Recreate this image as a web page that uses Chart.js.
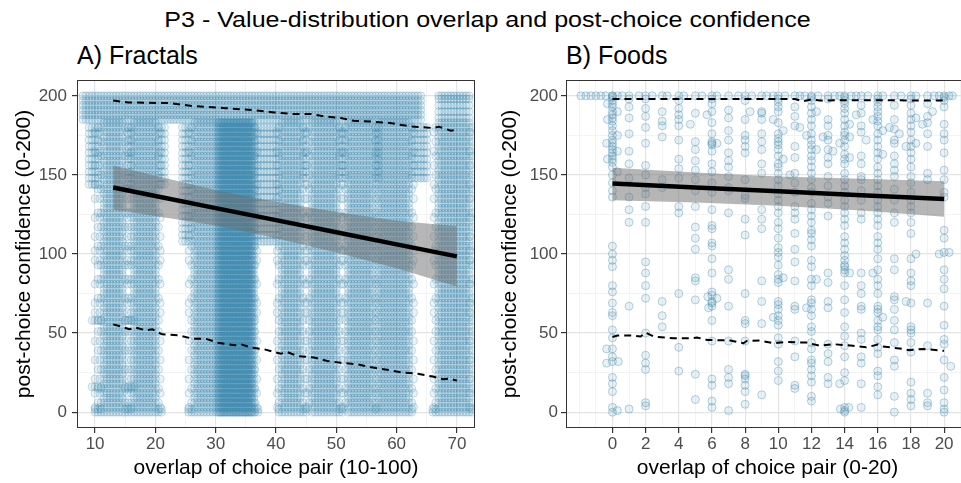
<!DOCTYPE html>
<html><head><meta charset="utf-8">
<script src="https://cdn.jsdelivr.net/npm/chart.js@4/dist/chart.umd.min.js"></script>
<style>
html,body{margin:0;padding:0;background:#fff;overflow:hidden;width:961px;height:483px;position:relative;}
#title{position:absolute;left:7px;top:9px;width:961px;text-align:center;font:22px/22px "Liberation Sans",Arial,sans-serif;color:#000;white-space:nowrap;transform:scaleX(1.14);transform-origin:center;}
.sub{position:absolute;top:43px;font:25px/25px "Liberation Sans",Arial,sans-serif;color:#000;white-space:nowrap;}
#cA{position:absolute;left:0;top:0;}
#cB{position:absolute;left:481px;top:0;}
</style></head>
<body>
<div id="title">P3 - Value-distribution overlap and post-choice confidence</div>
<div class="sub" style="left:77px">A) Fractals</div>
<div class="sub" style="left:566px">B) Foods</div>
<canvas id="cA" width="480" height="483"></canvas>
<canvas id="cB" width="500" height="483"></canvas>
<script>
// ---------------- DATA ----------------
// Panel A (Fractals) – axis
const fracGridX = [10,15,20,25,30,35,40,45,50,55,60,65,70];
const fracTickX = [10,20,30,40,50,60,70];
const confGridY = [0,25,50,75,100,125,150,175,200];
const confTickY = [0,50,100,150,200];

// Panel A – scatter, read as columns of jittered overlap values x confidence levels
const fracTopX = [8,8.5,9,9.5,10,10.5,11,11.5,12,12.5,13,13.5,14,14.5,15,15.5,16,16.5,17,17.5,18,18.5,19,19.5,20,20.5,21,21.5,22,22.5,23,23.5,24,24.5,25,25.5,26,26.5,27,27.5,28,28.5,29,29.5,30,30.5,31,31.5,32,32.5,33,33.5,34,34.5,35,35.5,36,36.5,37,37.5,38,38.5,39,39.5,40,40.5,41,41.5,42,42.5,43,43.5,44,44.5,45,45.5,46,46.5,47,47.5,48,48.5,49,49.5,50,50.5,51,51.5,52,52.5,53,53.5,54,54.5,55,55.5,56,56.5,57,57.5,58,58.5,59,59.5,60,60.5,61,61.5,62,62.5,63,63.5,64];
const fracTopY = [185,188,191,194,197,200];
const fracColY = [0,3,6,9,12,15,18,21,24,27,30,33,36,39,42,45,48,51,54,57,60,63,66,69,72,75,78,81,84,87,90,93,96,99,102,105,108,111,114,117,120,123,126,129,132,135,138,141,144,147,150,153,156,159,162,165,168,171,174,177,180,183];
const fracColIY = [0,3,6,9,12,15,18,21,24,27,30,33,36,39,42,45,48,51,54,57,60,63,66,69,72,75,78,81,84,87,90,93,96,99,102,105,108,111,114,117,120,123,126,129,132,135,138,141,144,147,150,153,156,159,162,165,168,171,174,177,180,183,186,190,194,198,200];
const fracColAX = [11.5,12,12.5,13,13.5,14,14.5];
const fracColBX = [16.5,17,17.5,18,18.5,19,19.5,20];
const fracColCX = [26.5,27,27.5,28,28.5,29,29.5,30];
const fracColDX = [30.5,30.75,31,31.25,31.5,31.75,32,32.25,32.5,32.75,33,33.25,33.5,33.75,34,34.25,34.5,34.75,35,35.25,35.5,35.75,36];
const fracColDX2 = [30.4,30.9,31.4,31.9,32.4,32.9,33.4,33.9,34.4,34.9,35.4,35.9,36.3];
const fracColEX = [41,41.5,42,42.5,43,43.5,44];
const fracColFX = [46,46.5,47,47.5,48,48.5,49,49.5,50];
const fracColGX = [52,52.5,53,53.5,54,54.5,55,55.5,56];
const fracColHX = [57,57.5,58,58.5,59,59.5,60,60.5,61,61.5,62];
const fracColIX = [67,67.5,68,68.5,69,69.5,70,70.5,71,71.5,72];
// ragged column edges
const fracEdgeAX = [10.5,11,15,15.5,16,20.5,26,36.5,40.5,44.5,45.5,50.5,51.5,56.5,62.5,66.5,72.5];
const fracEdgeAY = [6,15,27,39,51,58,72,84,93,105,117,126,141,150,162,171,180];
const fracEdgeBX = [10,10.8,15.3,16,20.8,25.6,36.8,40.2,44.8,45.2,50.8,51.2,56.6,62.8,66.2,72.2];
const fracEdgeBY = [3,12,21,33,45,63,69,81,96,102,111,123,135,144,156,165,177];
// filled upper areas between columns
const fracUpperLeftX = [9,9.5,10,10.5,15.5,16,20.5,21,21.5];
const fracUpperLeftY = [144,148,152,156,160,164,168,172,176,180];
const fracUpperMidX = [24.5,25,25.5,26,36.5,37,37.5,38,38.5,39,39.5,40,40.5];
const fracUpperMidY = [108,112,116,120,124,128,132,136,140,144,148,152,156,160,164,168,172,176,180];
const fracUpperRightX = [44.5,45,50.5,51,51.5,56.5,57,62.5,63,63.5,64,64.5,65];
const fracUpperRightY = [148,152,156,160,164,168,172,176,180];
const fracBottomX = [10,10.5,11,15,15.5,16,20.5,21,25.5,26,36.5,37,40.5,44.5,45,50.5,51,56.5,62.5,66,66.5,72.5];
const fracBottomY = [0,2];
const fracBlobX = [9.5,10,10.5,11,15,15.5,16,16.5];
const fracBlobY = [16,58];

// Panel A – linear fit with confidence band
const fracFitX = [13,20,30,35,40,50,60,70];
const fracFitY = [142,136.7,129,125.2,121.4,113.8,106.1,98.5];
const fracBandUp = [156,149.5,140.5,136.5,133,126.5,121,117.5];
const fracBandLo = [128,124,118,114,110,101,91,79.5];

// Panel A – dashed quantile curves
const fracQHighX = [13,15.5,22.3,26.1,31.6,35.4,39.7,43,45.8,48,50.7,52.9,55.6,58.9,62.2,64.9,66,67,69,70];
const fracQHighY = [197,195.8,195.4,193.6,192.2,191.2,189.5,188.5,188.5,187,186,184.2,183.8,182.8,180.7,180,179.6,180.5,178,178.5];
const fracQLowX = [13,14,15.7,16.8,18.4,19.5,21.1,23.9,26.1,28.3,30.4,33.2,34.2,35.9,38.1,40.8,41.9,43.5,46.3,48.5,50.7,53.4,56.1,58.9,61.1,63.3,66,67.7,68.8,69.6,70];
const fracQLowY = [55.5,54.5,52.4,53.4,51.7,52.4,49.2,48.6,46.5,46.5,43.9,42.3,42.9,40.8,39.7,37,38,35.5,34.5,32.4,31.3,30.3,28.2,26.5,25,24.4,22.5,20.8,21.2,20.4,20];

// Panel B (Foods) – axis
const foodGridX = [-2,-1,0,1,2,3,4,5,6,7,8,9,10,11,12,13,14,15,16,17,18,19,20,21];
const foodTickX = [0,2,4,6,8,10,12,14,16,18,20];

// Panel B – scatter: confidence values for each overlap value 0..20
const foodOverlap = [0,1,2,3,4,5,6,7,8,9,10,11,12,13,14,15,16,17,18,19,20];
const foodConfidence = [
  [200,200,199,197,195,193,190,188,186,184,181,178,175,172,170,168,166,164,162,160,158,155,150,145,140,136,105,100,96,92,80,76,69,63,61,52,47,40,35,32,22,18,13,3,0],
  [200,198,193,186,176,165,157,148,136,128,120,67,2],
  [200,198,192,187,180,170,156,150,142,138,130,120,95,88,80,72,50,36,31,27,6,4],
  [200,190,184,181,174,147,142,70,61,54],
  [200,197,192,188,185,181,172,160,154,148,130,126,75,41,26],
  [200,189,171,166,159,153,147,140,130,117,110,103,85,83,71,24,8],
  [200,198,195,190,183,176,171,170,169,165,157,152,145,139,128,118,116,107,105,97,88,76,74,70,69,67,58,45,21,17,7,3],
  [200,191,186,178,172,164,159,155,149,142,140,126,90,84,67,45,27,22,18,1],
  [200,197,185,175,172,168,164,147,137,135,122,112,75,58,56,45,24,23,21,17,13,5],
  [200,190,189,185,176,171,166,157,151,128,122,116,83,70,56,11],
  [200,198,196,193,190,183,176,173,171,169,166,162,157,155,151,147,143,138,134,130,126,120,116,110,104,101,98,93,87,84,82,70,68,65,61,58,55,47,43,32,26,20],
  [200,193,187,181,168,161,151,145,139,130,126,122,113,103,95,83,67,65,45,35,17,15],
  [200,199,197,193,189,185,181,176,172,169,166,162,159,155,151,147,142,139,132,128,124,120,115,113,109,105,96,92,84,80,71,69,65,61,54,51,44,40,33,31,27,23,19,10,7],
  [200,198,185,181,175,172,166,161,157,149,143,136,132,124,88,82,70,66,43,37,32,22,18],
  [200,199,197,195,192,189,185,181,177,175,172,168,163,160,157,151,147,143,139,134,130,126,122,118,111,107,103,99,96,93,92,90,88,80,71,63,54,48,42,35,25,20,3,1,0],
  [200,194,189,181,177,162,157,149,147,140,134,126,122,88,80,75,67,65,50,46,35,31,18,3],
  [200,198,196,193,190,187,184,181,176,172,168,164,160,155,151,147,143,139,134,130,126,122,118,111,107,103,97,90,84,80,75,67,65,63,58,54,52,46,41,37,26,23,16,11],
  [200,194,185,179,172,170,162,157,153,149,141,134,126,120,97,90,73,71,65,58,52,44,33,29,10,0],
  [200,198,194,189,185,181,177,172,168,164,160,155,149,145,139,134,130,126,120,113,97,88,83,80,69,54,52,50,44,38,19,12,8,4],
  [200,195,187,183,176,168,151,147,69,42,12,6,4],
  [200,199,197,193,182,176,172,164,153,147,139,136,115,110,101,90,84,78,67,55,46,43,33,22,14,6,2,0]
];
const foodTopRowX = [-1.9,-1.6,-1.3,-1.0,-0.7,-0.4,0.3,0.6,1.6,2.4,3.3,4.3,5.4,6.3,7.6,8.4,9.3,9.7,10.4,11.3,11.6,12.4,13.4,13.7,14.4,14.7,15.4,16.3,17.4,18.3,19.4,19.7,20.3,20.5];
const foodTopRowY = [200];
const foodOffX = [-0.3,0.3,-0.3,0.3,-0.35,0.3,-0.3,0.3,-0.35,5.75,6.3,5.8,9.7,10.3,11.7,12.3,13.7,14.3,13.75,14.25,16.3,15.7,18.3,17.7,19.7,20.3,20.4,-0.35,0.35,0.3,
  9.7,10.3,10.3,11.7,12.3,12.3,13.7,14.3,14.3,14.3,15.7,16.3,16.3,17.7,18.3,18.3,5.7,6.3,4.7,8.3,11.3,12.7,13.3,14.7,15.3,16.7,17.3,18.7,19.3,10.7];
const foodOffY = [195,190,185,175,170,165,160,152,40,73,72,66,60,85,66,84,18,88,2,3,60,88,100,70,100,101,29,31,32,1,
  185,178,160,175,190,166,170,182,174,161,185,178,163,168,186,170,188,170,182,190,180,174,165,188,172,180,176,182,190,150];

// Panel B – linear fit with confidence band
const foodFitX = [0,5,10,15,20];
const foodFitY = [144.5,142.1,139.7,137.2,134.8];
const foodBandUp = [154.5,151.5,149,147.5,146];
const foodBandLo = [134,132.5,130.5,127.5,123.5];

// Panel B – dashed quantile curves
const foodQHighX = [0,2,4,6,8,10,11,11.5,12,12.5,14,16,18,20];
const foodQHighY = [198,198,198,198,198,198,198,196.5,197.8,197,197.2,197.2,197.1,197];
const foodQLowX = [0,0.3,1.1,1.7,2,2.5,3.7,4.7,5.1,5.7,7.1,7.9,8.1,8.9,9.7,10.5,11.7,12.5,13.3,14.5,15.3,16,16.3,17.3,17.9,18.7,20];
const foodQLowY = [47.5,48.5,48.5,47.8,50.3,47.8,46.7,46.7,47.2,45.7,45.3,43.6,45,45.3,43.6,44.4,44,42,43,42,41,42.7,41.5,40.3,39.2,40,38.8];

// ---------------- BUILD ----------------
const FONT = '"Liberation Sans", Arial, Helvetica, sans-serif';

function cross(xs, ys){ const out=[]; for(const x of xs) for(const y of ys) out.push({x:x,y:y}); return out; }
function zip(xs, ys){ return xs.map((x,i)=>({x:x,y:ys[i]})); }

const fracPoints = [].concat(
  cross(fracTopX, fracTopY),
  cross(fracColAX, fracColY), cross(fracColBX, fracColY), cross(fracColCX, fracColY),
  cross(fracColDX, fracColY), cross(fracColDX2, fracColY), cross(fracColEX, fracColY), cross(fracColFX, fracColY),
  cross(fracColGX, fracColY), cross(fracColHX, fracColY), cross(fracColIX, fracColIY),
  cross(fracEdgeAX, fracEdgeAY), cross(fracEdgeBX, fracEdgeBY),
  cross(fracUpperLeftX, fracUpperLeftY), cross(fracUpperMidX, fracUpperMidY),
  cross(fracUpperRightX, fracUpperRightY), cross(fracBottomX, fracBottomY), cross(fracBlobX, fracBlobY)
);
const foodPoints = [];
foodOverlap.forEach((x,i)=>{ foodConfidence[i].forEach(y=>foodPoints.push({x:x,y:y})); });
cross(foodTopRowX, foodTopRowY).forEach(p=>foodPoints.push(p));
zip(foodOffX, foodOffY).forEach(p=>foodPoints.push(p));

const panelBorder = {
  id:'panelBorder',
  afterDatasetsDraw(chart){
    const a = chart.chartArea, c = chart.ctx;
    c.save(); c.strokeStyle='#333333'; c.lineWidth=1;
    c.strokeRect(Math.round(a.left)+0.5, Math.round(a.top)+0.5, Math.round(a.right-a.left)-1, Math.round(a.bottom-a.top)-1);
    c.restore();
  }
};

function datasets(points, fitX, fitY, up, lo, qhx, qhy, qlx, qly, fillCol, edgeCol){
  return [
    {type:'line', data:zip(fitX, fitY), borderColor:'#000', borderWidth:4.5, pointRadius:0, fill:false, order:0},
    {type:'line', data:zip(qhx, qhy), borderColor:'#000', borderWidth:2, borderDash:[7,5], pointRadius:0, fill:false, order:1, tension:0},
    {type:'line', data:zip(qlx, qly), borderColor:'#000', borderWidth:2, borderDash:[7,5], pointRadius:0, fill:false, order:1, tension:0},
    {type:'line', data:zip(fitX, up), borderWidth:0, borderColor:'rgba(0,0,0,0)', pointRadius:0, fill:'+1', backgroundColor:'rgba(110,110,110,0.5)', order:2},
    {type:'line', data:zip(fitX, lo), borderWidth:0, borderColor:'rgba(0,0,0,0)', pointRadius:0, fill:false, order:2},
    {type:'scatter', data:points, pointRadius:4, pointBorderWidth:1, backgroundColor:fillCol, borderColor:edgeCol, order:5}
  ];
}

function gridOpts(majors){
  return {
    color: ctx => (ctx.tick && majors.includes(ctx.tick.value)) ? '#e4e4e4' : '#eeeeee',
    lineWidth: ctx => (ctx.tick && majors.includes(ctx.tick.value)) ? 1.2 : 0.7,
    tickColor: ctx => (ctx.tick && majors.includes(ctx.tick.value)) ? '#333333' : 'rgba(0,0,0,0)',
    tickLength:5, drawTicks:true, drawOnChartArea:true
  };
}

function makeChart(id, cfg){
  return new Chart(document.getElementById(id), {
    type:'scatter',
    data:{datasets:cfg.datasets},
    options:{
      responsive:false, animation:false, events:[],
      layout:{padding:{top:80, left:0, right:cfg.padRight, bottom:0}},
      plugins:{legend:{display:false}, tooltip:{enabled:false}, title:{display:false}},
      scales:{
        x:{type:'linear', min:cfg.xmin, max:cfg.xmax,
           afterBuildTicks: s => { s.ticks = cfg.gridX.map(v=>({value:v})); },
           afterFit: s => { s.height = 55; },
           ticks:{autoSkip:false, maxRotation:0, minRotation:0, padding:1, color:'#4d4d4d', font:{family:FONT, size:17},
                  callback: v => cfg.tickX.includes(v) ? String(v) : ''},
           grid:gridOpts(cfg.tickX), border:{display:false},
           title:{display:true, text:cfg.xTitle, color:'#000', font:{family:FONT, size:21}, padding:{top:0, bottom:2}}
        },
        y:{type:'linear', min:-10, max:210,
           afterBuildTicks: s => { s.ticks = confGridY.map(v=>({value:v})); },
           afterFit: s => { s.width = cfg.yWidth; },
           ticks:{autoSkip:false, padding:cfg.yPad, color:'#4d4d4d', font:{family:FONT, size:17},
                  callback: v => confTickY.includes(v) ? String(v) : ''},
           grid:gridOpts(confTickY), border:{display:false},
           title:{display:true, text:'post-choice confidence (0-200)', color:'#000', font:{family:FONT, size:21}, padding:{top:cfg.yTitlePad, bottom:0}}
        }
      }
    },
    plugins:[panelBorder]
  });
}

makeChart('cA', {
  datasets: datasets(fracPoints, fracFitX, fracFitY, fracBandUp, fracBandLo, fracQHighX, fracQHighY, fracQLowX, fracQLowY,
                     'rgba(62,140,176,0.11)', 'rgba(62,140,176,0.26)'),
  xmin:7, xmax:73, gridX:fracGridX, tickX:fracTickX, padRight:1, yWidth:77, yPad:5, yTitlePad:12,
  xTitle:'overlap of choice pair (10-100)'
});
makeChart('cB', {
  datasets: datasets(foodPoints, foodFitX, foodFitY, foodBandUp, foodBandLo, foodQHighX, foodQHighY, foodQLowX, foodQLowY,
                     'rgba(62,140,176,0.12)', 'rgba(62,140,176,0.38)'),
  xmin:-2.8, xmax:21.5, gridX:foodGridX, tickX:foodTickX, padRight:12, yWidth:85, yPad:3, yTitlePad:16.4,
  xTitle:'overlap of choice pair (0-20)'
});
</script>
</body></html>
